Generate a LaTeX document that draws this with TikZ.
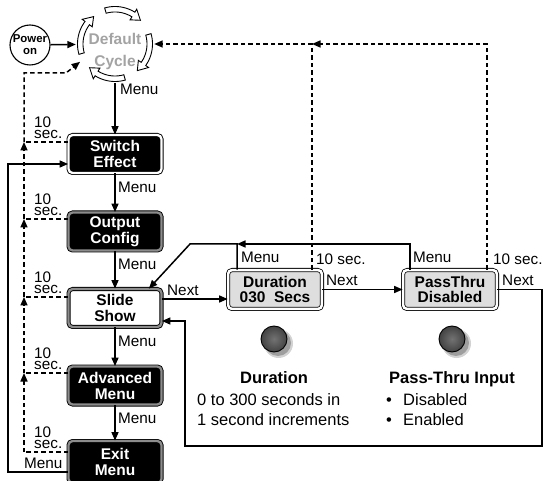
\documentclass[tikz,border=0pt]{standalone}
\usepackage{fontspec}
\setmainfont{Liberation Sans}
\usetikzlibrary{arrows.meta}
\definecolor{cycgray}{gray}{0.64}
\definecolor{bandgray}{gray}{0.55}
\definecolor{boxgray}{gray}{0.87}
\definecolor{knobin}{gray}{0.45}
\definecolor{knobout}{gray}{0.26}
\definecolor{shadowgray}{gray}{0.62}
\newcommand{\cycarrow}[2]{%
  \draw[fill=white,line width=0.9pt,line join=miter]
    plot[domain=#1:#2-15,samples=16] (\x:37.5) -- (#2-15:41) -- (#2:34.75) -- (#2-15:28.5)
    -- plot[domain=#2-15:#1,samples=16] (\x:32) -- cycle;}
\begin{document}
\begin{tikzpicture}[x=1pt,y=-1pt,
  lbl/.style={font=\fontsize{15.3}{15}\selectfont, inner sep=0pt, anchor=base west},
  tsec/.style={font=\fontsize{15.3}{11.5}\selectfont, inner sep=0pt, align=left, anchor=south west},
  desc/.style={font=\fontsize{16.5}{19}\selectfont, inner sep=0pt, anchor=base west},
  arr/.style={line width=1.5pt, -{Triangle[length=8.5pt,width=7pt]}},
  darr/.style={line width=1.5pt, dash pattern=on 4.5pt off 3pt, -{Triangle[length=8.5pt,width=7pt]}},
  dln/.style={line width=1.5pt, dash pattern=on 4.5pt off 3pt},
  mbox/.style={draw=black, line width=0.9pt, double=#1, double distance=2.3pt,
    rounded corners=4pt, minimum width=92.9pt, minimum height=37.9pt, inner sep=0pt,
    align=center, font=\fontsize{15.5}{16}\selectfont\bfseries},
  darkbox/.style={mbox=#1, fill=black, text=white},
  lightbox/.style={mbox=bandgray, fill=white, text=black},
  setbox/.style={draw=black, line width=0.8pt, double=white, double distance=2.5pt,
    rounded corners=4pt, fill=boxgray, minimum width=93.9pt, minimum height=38.9pt,
    inner sep=0pt, align=center, font=\fontsize{15.5}{15}\selectfont\bfseries},
  knob/.style={circle, draw=black, line width=0.9pt, minimum size=26pt, inner sep=0pt,
    shading=radial, inner color=knobin, outer color=knobout},
  kshadow/.style={fill=shadowgray}
]
\useasboundingbox (0,0) rectangle (544,481);

% Power on and default cycle
\node[circle, draw, line width=1.1pt, minimum size=40pt, inner sep=0pt, align=center,
  font=\fontsize{11.4}{12}\selectfont\bfseries] (pwr) at (30,45) {Power\\on};
\node[circle, minimum size=78pt, inner sep=0pt] (cyc) at (115,44) {};
\begin{scope}[shift={(115,44)}]
  \cycarrow{-106}{-43}
  \cycarrow{-16}{50}
  \cycarrow{74}{137}
  \cycarrow{164}{232}
\end{scope}
\node[anchor=base, inner sep=0pt, text=cycgray, font=\fontsize{15.5}{15}\selectfont\bfseries] (dflt) at (115,45) {Default};
\node[anchor=base, inner sep=0pt, text=cycgray, font=\fontsize{15.5}{15}\selectfont\bfseries] (cycl) at (115,67) {Cycle};

% Menu boxes
\node[darkbox=white] (sw) at (115,154) {Switch\\Effect};
\node[darkbox=bandgray] (oc) at (115,231.5) {Output\\Config};
\node[lightbox] (ss) at (115,308) {Slide\\Show};
\node[darkbox=bandgray] (am) at (115,385.5) {Advanced\\Menu};
\node[darkbox=bandgray, minimum height=41.9pt] (em) at (115,462) {Exit\\Menu};

% Setting boxes
\node[setbox] (dur) at (275,289.5) {Duration\\030\hspace{0.55em}Secs};
\node[setbox] (pt) at (450,289.5) {PassThru\\Disabled};

% knobs with soft shadows
\fill[kshadow, opacity=0.45] (278.5,343.5) circle (14.5pt);
\fill[kshadow] (278,343) circle (13pt);
\fill[kshadow, opacity=0.45] (456.5,343.5) circle (14.5pt);
\fill[kshadow] (456,343) circle (13pt);
\node[knob] (k1) at (274,339) {};
\node[knob] (k2) at (452,339) {};

% main connectors
\draw[arr] (pwr) -- (cyc);
\draw[arr] (cyc.south) -- (sw.north);
\draw[arr] (sw) -- (oc);
\draw[arr] (oc) -- (ss);
\draw[arr] (ss) -- (am);
\draw[arr] (am) -- (em);
\node[lbl] (m0) at (120,95) {Menu};
\node[lbl] (m1) at (118,193) {Menu};
\node[lbl] (m2) at (118,270) {Menu};
\node[lbl] (m3) at (118,347) {Menu};
\node[lbl] (m4) at (118,423) {Menu};

% Exit Menu loop back to Switch Effect
\coordinate (lb) at (8,472);
\draw[arr] ([yshift=-10pt]em.west) -- (lb) |- ([yshift=-10pt]sw.west);
\node[lbl] (m5) at (24,468) {Menu};

% left dashed timeouts
\coordinate (j1) at (24,142);
\coordinate (j2) at (24,219);
\coordinate (j3) at (24,297);
\coordinate (j4) at (24,373);
\coordinate (j5) at (24,452);
\coordinate (jt) at (24,73);
\coordinate (jk) at (66,73);
\draw[dln] (sw.west |- j1) -- (j1);
\draw[dln] (oc.west |- j2) -- (j2);
\draw[dln] (ss.west |- j3) -- (j3);
\draw[dln] (am.west |- j4) -- (j4);
\draw[dln] (em.west |- j5) -- (j5);
\draw[darr] (j5) -- (j4);
\draw[darr] (j4) -- (j3);
\draw[darr] (j3) -- (j2);
\draw[darr] (j2) -- (j1);
\draw[darr] (j1) -- (jt) -- (jk) -- (cyc.207);
\foreach \n/\j in {s1/142,s2/219,s3/297,s4/373,s5/452}{
  \node[tsec] (\n) at (34,\j-3) {10\\sec.};
}

% Slide show -> Duration -> PassThru
\draw[arr] ([yshift=9pt]ss.east) -- ([yshift=9pt]ss.east -| dur.west);
\node[lbl] (n1) at (167,296) {Next};
\draw[arr] (dur) -- (pt);
\node[lbl] (n2) at (326,286) {Next};
\coordinate (r1) at (542,289.5);
\coordinate (r2) at (542,446);
\coordinate (r3) at (185,446);
\draw[arr] (pt.east) -- (r1) -- (r2) -- (r3) |- ([yshift=-13pt]ss.east);
\node[lbl] (n3) at (502,286) {Next};

% Menu returns
\coordinate (q2) at (410,244);
\coordinate (q1) at (237,244);
\coordinate (q0) at (190,244);
\draw[arr] (pt.north -| q2) -- (q2) -- (q1);
\draw[arr] (dur.north -| q1) -- (q1) -- (q0) -- ([xshift=-13pt]ss.north east);
\node[lbl] (m6) at (241,263) {Menu};
\node[lbl] (m7) at (413,263) {Menu};

% dashed timeouts to default cycle
\coordinate (d2) at (487,44);
\coordinate (d1) at (312,44);
\draw[darr] (pt.north -| d2) -- (d2) -- (d1);
\draw[darr] (dur.north -| d1) -- (d1) -- (cyc.east);
\node[lbl] (t1) at (316,265) {10 sec.};
\node[lbl] (t2) at (493,265) {10 sec.};

% descriptions
\node[desc, anchor=base, font=\fontsize{16.5}{19}\selectfont\bfseries] (h1) at (274,383) {Duration};
\node[desc] (h1a) at (197,405) {0 to 300 seconds in};
\node[desc] (h1b) at (197,425) {1 second increments};
\node[desc, font=\fontsize{16.5}{19}\selectfont\bfseries] (h2) at (389,383) {Pass-Thru Input};
\node[desc] (b1) at (386,405) {\textbullet};
\node[desc] (h2a) at (403,405) {Disabled};
\node[desc] (b2) at (386,425) {\textbullet};
\node[desc] (h2b) at (403,425) {Enabled};
\end{tikzpicture}
\end{document}
